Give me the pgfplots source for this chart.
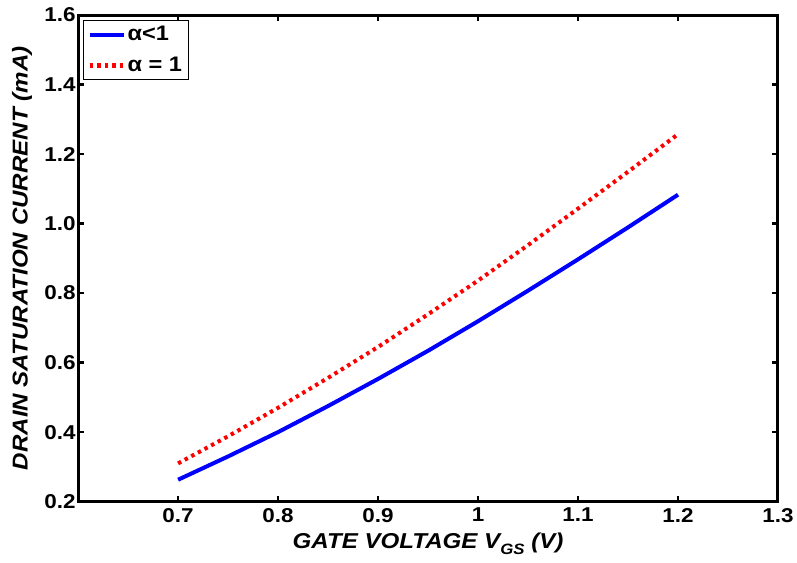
\documentclass[border=0pt]{standalone}
\usepackage{fontspec}
\setmainfont[FakeStretch=1.12]{Liberation Sans}
\usepackage{pgfplots}
\pgfplotsset{compat=1.18}
\usetikzlibrary{calc}
\begin{document}
\begin{tikzpicture}
\begin{axis}[
  scale only axis, width=699pt, height=486pt,
  xmin=0.6, xmax=1.3, ymin=0.2, ymax=1.6,
  axis x line=box, axis y line=box,
  xtick={0.7,0.8,0.9,1.0,1.1,1.2,1.3},
  xticklabels={0.7,0.8,0.9,1,1.1,1.2,1.3},
  ytick={0.2,0.4,0.6,0.8,1.0,1.2,1.4,1.6},
  yticklabels={0.2,0.4,0.6,0.8,1.0,1.2,1.4,1.6},
  tick align=inside, major tick length=6pt,
  axis line style={line width=3pt, -},
  every tick/.style={black, line width=2.5pt},
  ticklabel style={font=\fontsize{20}{20}\selectfont\bfseries},
  xticklabel style={yshift=-3pt},
  yticklabel style={xshift=1pt},
  xlabel={\bfseries\itshape GATE VOLTAGE V\raisebox{-0.5ex}{\fontsize{15}{15}\selectfont GS} (V)},
  ylabel={\bfseries\itshape DRAIN SATURATION CURRENT (mA)},
  label style={font=\fontsize{21.5}{21.5}\selectfont},
  xlabel style={at={(axis description cs:0.5,0)}, anchor=base, yshift=-47pt},
  ylabel style={at={(axis description cs:-0.080,0.5)}, anchor=center},
  legend style={at={(axis description cs:0,1)}, anchor=north west, xshift=5pt, yshift=-5pt,
    draw=black, line width=1pt, font=\fontsize{21}{21}\selectfont\bfseries,
    inner sep=4pt, row sep=11pt},
  legend cell align=left,
  legend image code/.code={\draw[#1] (0pt,0pt) -- (34pt,0pt);},
]
\addplot[blue, line width=4pt] coordinates {
(0.70,0.263) (0.75,0.330) (0.80,0.400) (0.85,0.475) (0.90,0.553) (0.95,0.634)
(1.00,0.719) (1.05,0.807) (1.10,0.897) (1.15,0.989) (1.20,1.083)};
\addlegendentry{α<1}
\addplot[red, line width=4pt, dash pattern=on 3.5pt off 4pt] coordinates {
(0.70,0.310) (0.75,0.388) (0.80,0.470) (0.85,0.556) (0.90,0.645) (0.95,0.739)
(1.00,0.836) (1.05,0.938) (1.10,1.043) (1.15,1.149) (1.20,1.257)};
\addlegendentry{α = 1}
\end{axis}
\pgfresetboundingbox
\path ($(current axis.south west)+(-78pt,-61pt)$) rectangle ($(current axis.north east)+(19pt,15pt)$);
\end{tikzpicture}
\end{document}
